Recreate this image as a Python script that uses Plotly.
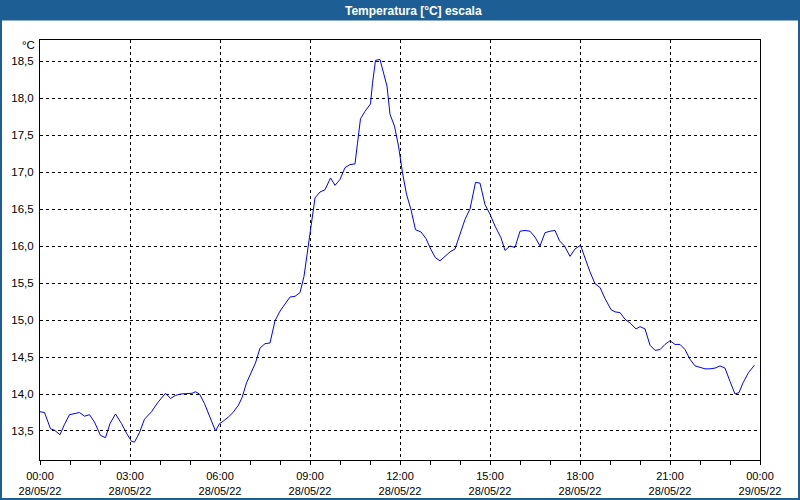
import plotly.graph_objects as go

# ---- data (28/05/22) ----
times = [
    "00:00", "00:09", "00:21", "00:29", "00:40", "00:49", "00:59", "01:09", "01:19", "01:29",
    "01:39", "01:49", "02:01", "02:11", "02:20", "02:31", "02:43", "02:53", "03:03", "03:09",
    "03:19", "03:29", "03:43", "03:55", "04:04", "04:11", "04:21", "04:31", "04:41", "04:53",
    "05:04", "05:11", "05:19", "05:29", "05:41", "05:51", "05:59", "06:04", "06:17", "06:26",
    "06:37", "06:44", "06:53", "07:04", "07:11", "07:20", "07:30", "07:40", "07:50", "08:00",
    "08:10", "08:20", "08:30", "08:40", "08:48", "08:55", "09:04", "09:10", "09:20", "09:30",
    "09:41", "09:50", "10:00", "10:10", "10:20", "10:30", "10:35", "10:41", "10:50", "11:01",
    "11:05", "11:11", "11:20", "11:26", "11:34", "11:40", "11:49", "11:57", "12:05", "12:13",
    "12:22", "12:31", "12:42", "12:52", "13:02", "13:11", "13:20", "13:30", "13:40", "13:50",
    "14:00", "14:10", "14:20", "14:31", "14:40", "14:50", "15:00", "15:10", "15:22", "15:30",
    "15:40", "15:50", "16:00", "16:10", "16:20", "16:30", "16:40", "16:50", "17:00", "17:10",
    "17:19", "17:29", "17:40", "17:50", "18:01", "18:10", "18:20", "18:30", "18:40", "18:50",
    "19:02", "19:10", "19:20", "19:30", "19:40", "19:52", "20:00", "20:10", "20:20", "20:30",
    "20:40", "20:50", "21:00", "21:10", "21:20", "21:30", "21:40", "21:50", "22:00", "22:10",
    "22:20", "22:30", "22:40", "22:50", "23:00", "23:10", "23:18", "23:26", "23:37", "23:49",
]
temps = [
    13.76, 13.75, 13.53, 13.51, 13.45, 13.59, 13.72, 13.73, 13.75, 13.70,
    13.72, 13.62, 13.44, 13.41, 13.60, 13.73, 13.60, 13.47, 13.36, 13.35,
    13.48, 13.66, 13.76, 13.88, 13.96, 14.01, 13.94, 13.98, 14.00, 14.00,
    14.01, 14.03, 14.00, 13.87, 13.66, 13.50, 13.60, 13.62, 13.69, 13.75,
    13.85, 13.95, 14.15, 14.31, 14.42, 14.62, 14.68, 14.69, 14.99, 15.12,
    15.22, 15.31, 15.32, 15.37, 15.59, 15.95, 16.40, 16.65, 16.73, 16.76,
    16.92, 16.82, 16.90, 17.06, 17.10, 17.11, 17.39, 17.72, 17.82, 17.92,
    18.20, 18.51, 18.52, 18.36, 18.16, 17.78, 17.62, 17.35, 16.99, 16.70,
    16.49, 16.22, 16.19, 16.10, 15.95, 15.84, 15.80, 15.86, 15.92, 15.96,
    16.15, 16.36, 16.50, 16.86, 16.85, 16.56, 16.43, 16.27, 16.11, 15.94,
    16.00, 15.98, 16.20, 16.21, 16.20, 16.12, 16.00, 16.18, 16.20, 16.21,
    16.07, 16.00, 15.86, 15.96, 16.01, 15.83, 15.65, 15.49, 15.44, 15.29,
    15.14, 15.11, 15.10, 15.01, 14.96, 14.88, 14.91, 14.88, 14.66, 14.59,
    14.60, 14.67, 14.72, 14.67, 14.67, 14.60, 14.47, 14.38, 14.36, 14.34,
    14.34, 14.35, 14.38, 14.35, 14.17, 14.00, 14.02, 14.15, 14.29, 14.39,
]
tick_times = ["2022-05-28 00:00", "2022-05-28 03:00", "2022-05-28 06:00", "2022-05-28 09:00",
              "2022-05-28 12:00", "2022-05-28 15:00", "2022-05-28 18:00", "2022-05-28 21:00",
              "2022-05-29 00:00"]
tick_labels = ["00:00<br>28/05/22", "03:00<br>28/05/22", "06:00<br>28/05/22", "09:00<br>28/05/22",
               "12:00<br>28/05/22", "15:00<br>28/05/22", "18:00<br>28/05/22", "21:00<br>28/05/22",
               "00:00<br>29/05/22"]
y_ticks = [13.5, 14.0, 14.5, 15.0, 15.5, 16.0, 16.5, 17.0, 17.5, 18.0, 18.5]
title_text = "Temperatura [°C] escala"
unit_text = "°C"

x_dates = ["2022-05-28 " + t for t in times]

W, H = 800, 500
ML, MR, MT, MB = 40, 40, 40, 40
PW, PH = W - ML - MR, H - MT - MB


def px(X):
    return (X - ML) / PW


def py(Y):
    return (H - MB - Y) / PH


FONT = "Liberation Sans"
BLUE = "#1d5f94"

fig = go.Figure()
fig.add_trace(go.Scatter(x=x_dates, y=temps, mode="lines",
                         line=dict(color="#0000ff", width=1), hoverinfo="skip"))

fig.update_layout(
    width=W, height=H,
    margin=dict(l=ML, r=MR, t=MT, b=MB),
    paper_bgcolor="#ffffff", plot_bgcolor="#ffffff",
    showlegend=False,
    separators=",.",
    font=dict(family=FONT, size=11.5, color="#000000"),
)
fig.update_xaxes(
    type="date", automargin=False,
    range=["2022-05-28 00:00", "2022-05-29 00:00"],
    tickvals=tick_times, ticktext=tick_labels,
    ticks="outside", ticklen=4, tickcolor="#000000", ticklabelstandoff=2,
    minor=dict(dtick=3600000, ticks="outside", ticklen=4, tickcolor="#000000", showgrid=False),
    showgrid=True, gridcolor="#000000", gridwidth=1, griddash="3px,3px",
    showline=True, linecolor="#000000", linewidth=1, mirror=True,
    zeroline=False, tickfont=dict(family=FONT, size=11, color="#000000"),
)
fig.update_yaxes(
    automargin=False,
    range=[13.108, 18.784],
    tickvals=y_ticks, tickformat=".1f",
    ticks="outside", ticklen=3, tickcolor="rgba(0,0,0,0)",
    showgrid=True, gridcolor="#000000", gridwidth=1, griddash="3px,3px",
    showline=True, linecolor="#000000", linewidth=1, mirror=True,
    zeroline=False, tickfont=dict(family=FONT, size=11.5, color="#000000"),
)

# title bar
fig.add_shape(type="rect", xref="paper", yref="paper",
              x0=px(0), x1=px(W), y0=py(20.5), y1=py(0),
              fillcolor=BLUE, line=dict(width=0), layer="above")
# outer blue border
fig.add_shape(type="rect", xref="paper", yref="paper",
              x0=px(1), x1=px(W - 1), y0=py(H - 1), y1=py(1),
              fillcolor="rgba(0,0,0,0)", line=dict(color=BLUE, width=2), layer="above")

fig.add_annotation(text="<b>" + title_text + "</b>", xref="paper", yref="paper",
                   x=px(413), y=py(10.5), xanchor="center", yanchor="middle",
                   showarrow=False, font=dict(family=FONT, size=12, color="#ffffff"))
fig.add_annotation(text=unit_text, xref="paper", yref="paper",
                   x=px(37), y=py(45), xanchor="right", yanchor="middle",
                   showarrow=False, font=dict(family=FONT, size=11.5, color="#000000"))

fig.write_html("out.html", config={"displayModeBar": False})
